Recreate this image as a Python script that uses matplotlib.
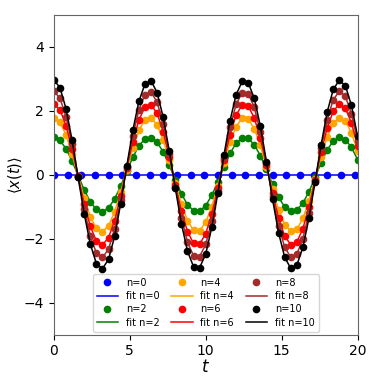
import numpy as np
from matplotlib import pyplot as plt

# sample times
t = np.arange(51) * 0.4          # n = 2..10
t_n0 = np.arange(23) * 0.9       # n = 0

x_n0 = [0.0] * 23
x_n2 = [1.16, 1.07, 0.81, 0.42, -0.03, -0.48, -0.85, -1.09, -1.16, -1.04, -0.76, -0.36, 0.10,
        0.54, 0.90, 1.11, 1.15, 1.01, 0.71, 0.29, -0.17, -0.60, -0.94, -1.13, -1.14, -0.97,
        -0.65, -0.23, 0.24, 0.66, 0.98, 1.14, 1.13, 0.93, 0.59, 0.16, -0.30, -0.71, -1.01,
        -1.15, -1.11, -0.89, -0.54, -0.09, 0.37, 0.77, 1.05, 1.16, 1.09, 0.85, 0.47]
x_n4 = [1.78, 1.64, 1.24, 0.64, -0.05, -0.74, -1.31, -1.68, -1.78, -1.60, -1.16, -0.55, 0.15,
        0.83, 1.38, 1.71, 1.77, 1.55, 1.08, 0.45, -0.26, -0.92, -1.44, -1.74, -1.75, -1.49,
        -1.00, -0.35, 0.36, 1.01, 1.50, 1.76, 1.73, 1.43, 0.91, 0.24, -0.46, -1.10, -1.56,
        -1.77, -1.71, -1.37, -0.82, -0.14, 0.56, 1.17, 1.60, 1.78, 1.67, 1.30, 0.73]
x_n6 = [2.20, 2.03, 1.53, 0.80, -0.06, -0.92, -1.62, -2.07, -2.20, -1.97, -1.44, -0.68, 0.19,
        1.03, 1.71, 2.11, 2.18, 1.91, 1.34, 0.55, -0.32, -1.14, -1.78, -2.15, -2.17, -1.85,
        -1.23, -0.43, 0.45, 1.25, 1.86, 2.17, 2.14, 1.77, 1.13, 0.30, -0.57, -1.36, -1.92,
        -2.19, -2.11, -1.69, -1.02, -0.17, 0.70, 1.45, 1.98, 2.20, 2.07, 1.61, 0.90]
x_n8 = [2.60, 2.39, 1.81, 0.94, -0.08, -1.08, -1.92, -2.45, -2.59, -2.33, -1.70, -0.80, 0.23,
        1.22, 2.02, 2.50, 2.58, 2.26, 1.58, 0.65, -0.38, -1.35, -2.11, -2.54, -2.56, -2.18,
        -1.46, -0.51, 0.53, 1.48, 2.19, 2.56, 2.53, 2.10, 1.33, 0.36, -0.68, -1.60, -2.27,
        -2.58, -2.49, -2.00, -1.20, -0.21, 0.82, 1.72, 2.34, 2.60, 2.44, 1.90, 1.06]
x_n10 = [2.95, 2.72, 2.06, 1.07, -0.09, -1.23, -2.17, -2.78, -2.94, -2.65, -1.93, -0.91, 0.26,
         1.38, 2.29, 2.83, 2.93, 2.56, 1.79, 0.74, -0.43, -1.53, -2.39, -2.88, -2.91, -2.48,
         -1.65, -0.58, 0.60, 1.68, 2.49, 2.91, 2.87, 2.38, 1.51, 0.40, -0.77, -1.82, -2.58,
         -2.93, -2.83, -2.27, -1.36, -0.23, 0.93, 1.95, 2.66, 2.95, 2.77, 2.16, 1.20]

n_values = [0, 2, 4, 6, 8, 10]
colors = ['blue', 'green', 'orange', 'red', 'brown', 'black']
series = [(t_n0, x_n0), (t, x_n2), (t, x_n4), (t, x_n6), (t, x_n8), (t, x_n10)]

fig = plt.figure(figsize=(3.82, 3.82), dpi=100)
ax = fig.add_axes([0.141, 0.124, 0.795, 0.838])

for n, c, (tt, xx) in zip(n_values, colors, series):
    ax.plot(tt, xx, 'o', color=c, markersize=4.5, label='n={}'.format(n))
    ax.plot(tt, xx, '-', color=c, linewidth=1.1, label='fit n={}'.format(n))

ax.set_xlim(0, 20)
ax.set_ylim(-5, 5)
ax.set_xticks([0, 5, 10, 15, 20])
ax.set_yticks([-4, -2, 0, 2, 4])
ax.tick_params(labelsize=10)
for s in ax.spines.values():
    s.set_color('#666666')
ax.set_xlabel(r'$t$', fontsize=12, labelpad=0)
ax.set_ylabel(r'$\langle x(t) \rangle$', fontsize=10.5, labelpad=0)
ax.legend(loc='lower center', ncol=3, fontsize=7, borderaxespad=0.3,
          columnspacing=1.2, handlelength=2.2, labelspacing=0.35)

plt.savefig('out.png', dpi=100)
